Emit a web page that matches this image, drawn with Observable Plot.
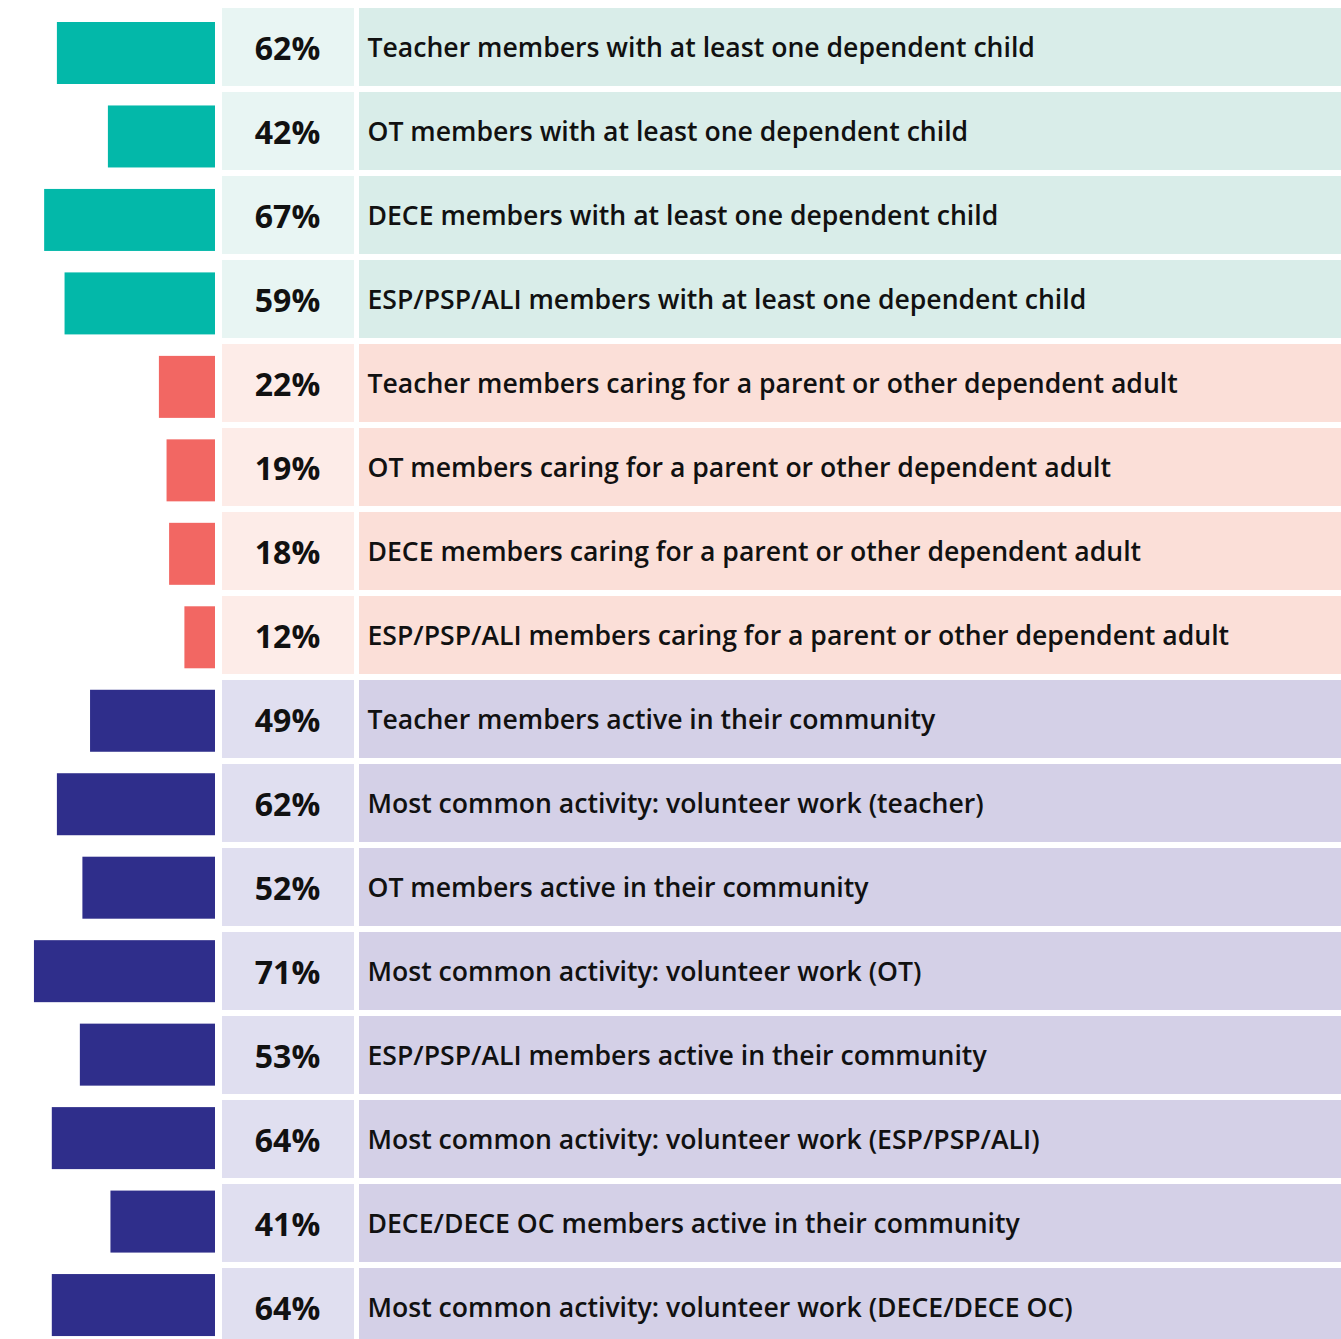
<!DOCTYPE html>
<html>
<head>
<meta charset="utf-8">
<script src="https://cdn.jsdelivr.net/npm/d3@7"></script>
<script src="https://cdn.jsdelivr.net/npm/@observablehq/plot@0.6"></script>
<style>
  html, body { margin: 0; padding: 0; background: #fff; overflow: hidden; }
  #chart { position: relative; width: 1341px; height: 1339px; }
  #chart svg { display: block; position: absolute; left: 0; top: 0; }
</style>
</head>
<body>
<div id="chart"></div>
<script>
const labels = [
  "Teacher members with at least one dependent child",
  "OT members with at least one dependent child",
  "DECE members with at least one dependent child",
  "ESP/PSP/ALI members with at least one dependent child",
  "Teacher members caring for a parent or other dependent adult",
  "OT members caring for a parent or other dependent adult",
  "DECE members caring for a parent or other dependent adult",
  "ESP/PSP/ALI members caring for a parent or other dependent adult",
  "Teacher members active in their community",
  "Most common activity: volunteer work (teacher)",
  "OT members active in their community",
  "Most common activity: volunteer work (OT)",
  "ESP/PSP/ALI members active in their community",
  "Most common activity: volunteer work (ESP/PSP/ALI)",
  "DECE/DECE OC members active in their community",
  "Most common activity: volunteer work (DECE/DECE OC)"
];
const values = [62, 42, 67, 59, 22, 19, 18, 12, 49, 62, 52, 71, 53, 64, 41, 64];
const groups = ["children","children","children","children",
  "adults","adults","adults","adults",
  "community","community","community","community","community","community","community","community"];

const groupNames = ["children", "adults", "community"];
const barColors = ["#03b8a9", "#f26763", "#2f2e8b"];
const pctBg = ["#e8f5f3", "#fdece8", "#e0dff0"];
const labelBg = ["#d9ede9", "#fbdfd8", "#d4d0e7"];

const data = labels.map((label, i) => ({label, value: values[i], group: groups[i]}));
const gi = g => groupNames.indexOf(g);

const W = 1341, H = 1339;

// Table (percentage cells and label cells)
const table = Plot.plot({
  width: W,
  height: H,
  margin: 0,
  style: {fontFamily: "'Open Sans', sans-serif", background: "transparent"},
  y: {domain: labels, range: [8, 8 + 16 * 84 - 6], paddingInner: 6 / 84, paddingOuter: 0, round: false, axis: null},
  marks: [
    Plot.cell(data, {y: "label", fill: d => pctBg[gi(d.group)], insetLeft: 222, insetRight: W - 354}),
    Plot.cell(data, {y: "label", fill: d => labelBg[gi(d.group)], insetLeft: 359, insetRight: 0}),
    Plot.text(data, {y: "label", text: d => d.value + "%", frameAnchor: "left", dx: 287, dy: 2, textAnchor: "middle",
      fontSize: 32, fontWeight: 700, fill: "#111"}),
    Plot.text(data, {y: "label", text: "label", frameAnchor: "left", dx: 367, dy: 1, textAnchor: "start",
      fontSize: 26.6, fontWeight: 600, fill: "#111"})
  ]
});

// Bars, drawn leftwards from x = 215
const step = 83.47;
const bars = Plot.plot({
  width: W,
  height: H,
  margin: 0,
  style: {background: "transparent"},
  x: {domain: [0, 100], range: [215, 215 - 255], axis: null},
  y: {domain: labels, range: [22, 22 + 15 * step + 62], paddingInner: (step - 62) / step, paddingOuter: 0, round: false, axis: null},
  marks: [
    Plot.barX(data, {x: "value", y: "label", fill: d => barColors[gi(d.group)]})
  ]
});

const el = document.getElementById("chart");
el.append(table);
el.append(bars);
</script>
</body>
</html>
